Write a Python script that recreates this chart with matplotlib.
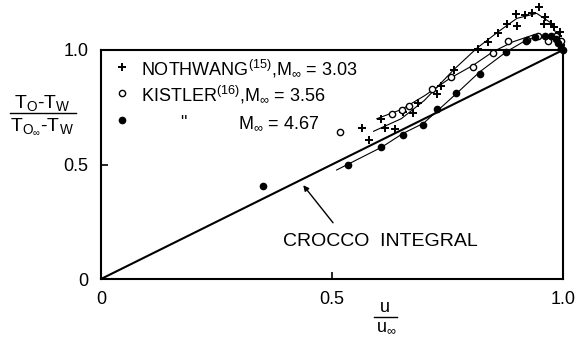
import matplotlib.pyplot as plt
from matplotlib.lines import Line2D

plt.rcParams["font.family"] = ["Liberation Sans", "DejaVu Sans"]
plt.rcParams["mathtext.fontset"] = "custom"
plt.rcParams["mathtext.rm"] = "Liberation Sans"
plt.rcParams["mathtext.it"] = "Liberation Sans"

# Nothwang, M = 3.03 (plus)
u_plus = [0.566, 0.581, 0.607, 0.615, 0.636, 0.653, 0.675, 0.687, 0.728, 0.737, 0.764,
          0.815, 0.838, 0.859, 0.878, 0.900, 0.898, 0.918, 0.932, 0.947, 0.961, 0.958,
          0.975, 0.980, 0.994, 0.990, 0.996]
y_plus = [0.661, 0.607, 0.697, 0.658, 0.654, 0.731, 0.724, 0.770, 0.808, 0.843, 0.913,
          1.003, 1.036, 1.076, 1.114, 1.105, 1.157, 1.153, 1.160, 1.189, 1.146, 1.114,
          1.114, 1.100, 1.080, 1.060, 1.020]
# Kistler, M = 3.56 (open circles)
u_open = [0.517, 0.629, 0.651, 0.667, 0.716, 0.757, 0.806, 0.849, 0.882, 0.921, 0.945,
          0.967, 0.985, 0.995]
y_open = [0.643, 0.720, 0.738, 0.755, 0.828, 0.881, 0.927, 0.986, 1.040, 1.044, 1.060,
          1.040, 1.060, 1.040]
# Kistler, M = 4.67 (filled)
u_fill = [0.351, 0.535, 0.607, 0.654, 0.698, 0.727, 0.768, 0.820, 0.877, 0.920, 0.940,
          0.960, 0.975, 0.985, 0.990, 0.995, 1.000]
y_fill = [0.406, 0.500, 0.578, 0.629, 0.672, 0.741, 0.811, 0.895, 0.990, 1.040, 1.055,
          1.060, 1.060, 1.050, 1.030, 1.010, 1.000]

# faired curves through each data set
cu_plus = [0.590, 0.650, 0.700, 0.763, 0.813, 0.860, 0.900, 0.943, 0.975, 0.994, 1.000]
cy_plus = [0.645, 0.700, 0.780, 0.913, 1.007, 1.080, 1.138, 1.160, 1.117, 1.030, 1.000]
cu_open = [0.597, 0.650, 0.700, 0.755, 0.806, 0.849, 0.892, 0.936, 0.979, 1.000]
cy_open = [0.700, 0.740, 0.800, 0.876, 0.934, 0.993, 1.036, 1.066, 1.058, 1.000]
cu_fill = [0.510, 0.607, 0.654, 0.698, 0.730, 0.770, 0.820, 0.878, 0.921, 0.965, 0.994, 1.000]
cy_fill = [0.476, 0.575, 0.636, 0.680, 0.738, 0.811, 0.905, 0.993, 1.044, 1.066, 1.030, 1.000]

crocco_u = [0, 1]
crocco_y = [0, 1]

W, H = 579, 343
fig = plt.figure(figsize=(W/100, H/100), dpi=100)
ax = fig.add_axes([101/W, 1-279/H, 462/W, 229/H])

ax.plot(crocco_u, crocco_y, color="black", lw=1.5)
ax.plot(cu_plus, cy_plus, color="black", lw=0.8, clip_on=False)
ax.plot(cu_open, cy_open, color="black", lw=0.8, clip_on=False)
ax.plot(cu_fill, cy_fill, color="black", lw=0.8, clip_on=False)

ax.plot(u_plus, y_plus, "+", color="black", ms=5.5, mew=1.4, clip_on=False)
ax.plot(u_open, y_open, "o", mfc="white", mec="black", ms=4.5, mew=1.0, clip_on=False)
ax.plot(u_fill, y_fill, "o", color="black", ms=4.5, clip_on=False)

ax.set_xlim(0, 1)
ax.set_ylim(0, 1)
ax.set_xticks([0, 0.5, 1.0])
ax.set_xticklabels(["0", "0.5", "1.0"])
ax.set_yticks([0, 0.5, 1.0])
ax.set_yticklabels(["0", "0.5", "1.0"])
ax.tick_params(direction="in", length=5, width=1.2, labelsize=13, pad=9)
for s in ax.spines.values():
    s.set_linewidth(1.5)


def px(x):
    return (x - 101) / 462


def py(y):
    return (279 - y) / 229


# legend written as text
ax.plot([px(122)], [py(66.7)], "+", color="black", ms=5.5, mew=1.4)
ax.plot([px(122)], [py(93.3)], "o", mfc="white", mec="black", ms=4.5, mew=1.0)
ax.plot([px(122)], [py(120)], "o", color="black", ms=4.5)

fs = 13
ax.text(px(141), py(75.7), r"NOTHWANG$^{\mathregular{(15)}}$,M$_\infty$ = 3.03",
        fontsize=fs, va="baseline")
ax.text(px(141), py(101.7), r"KISTLER$^{\mathregular{(16)}}$,M$_\infty$ = 3.56",
        fontsize=fs, va="baseline")
ax.text(px(180), py(128), '"', fontsize=fs, va="baseline")
ax.text(px(238), py(128), r"M$_\infty$ = 4.67", fontsize=fs, va="baseline")

ax.text(0.394, 0.163, "CROCCO  INTEGRAL", fontsize=14, va="center", ha="left")
ax.annotate("", xy=(0.434, 0.419), xytext=(0.506, 0.236),
            arrowprops=dict(arrowstyle="-|>", color="black", lw=1.0, mutation_scale=8))

# y label as a hand-made fraction
fig.text(42/W, 1-103/H, r"T$_\mathregular{O}$-T$_\mathregular{W}$", fontsize=14,
         ha="center", va="center")
fig.add_artist(Line2D([10/W, 76/W], [1-113/H, 1-113/H], color="black", lw=1.0))
fig.text(42/W, 1-127/H, r"T$_{\mathregular{O}_\infty}$-T$_\mathregular{W}$", fontsize=14,
         ha="center", va="center")

# x label
fig.text(385/W, 1-307/H, "u", fontsize=13, ha="center", va="center")
fig.add_artist(Line2D([374/W, 397/W], [1-317/H, 1-317/H], color="black", lw=1.0))
fig.text(386/W, 1-327/H, r"u$_\infty$", fontsize=13, ha="center", va="center")

fig.savefig("out.png", dpi=100)
